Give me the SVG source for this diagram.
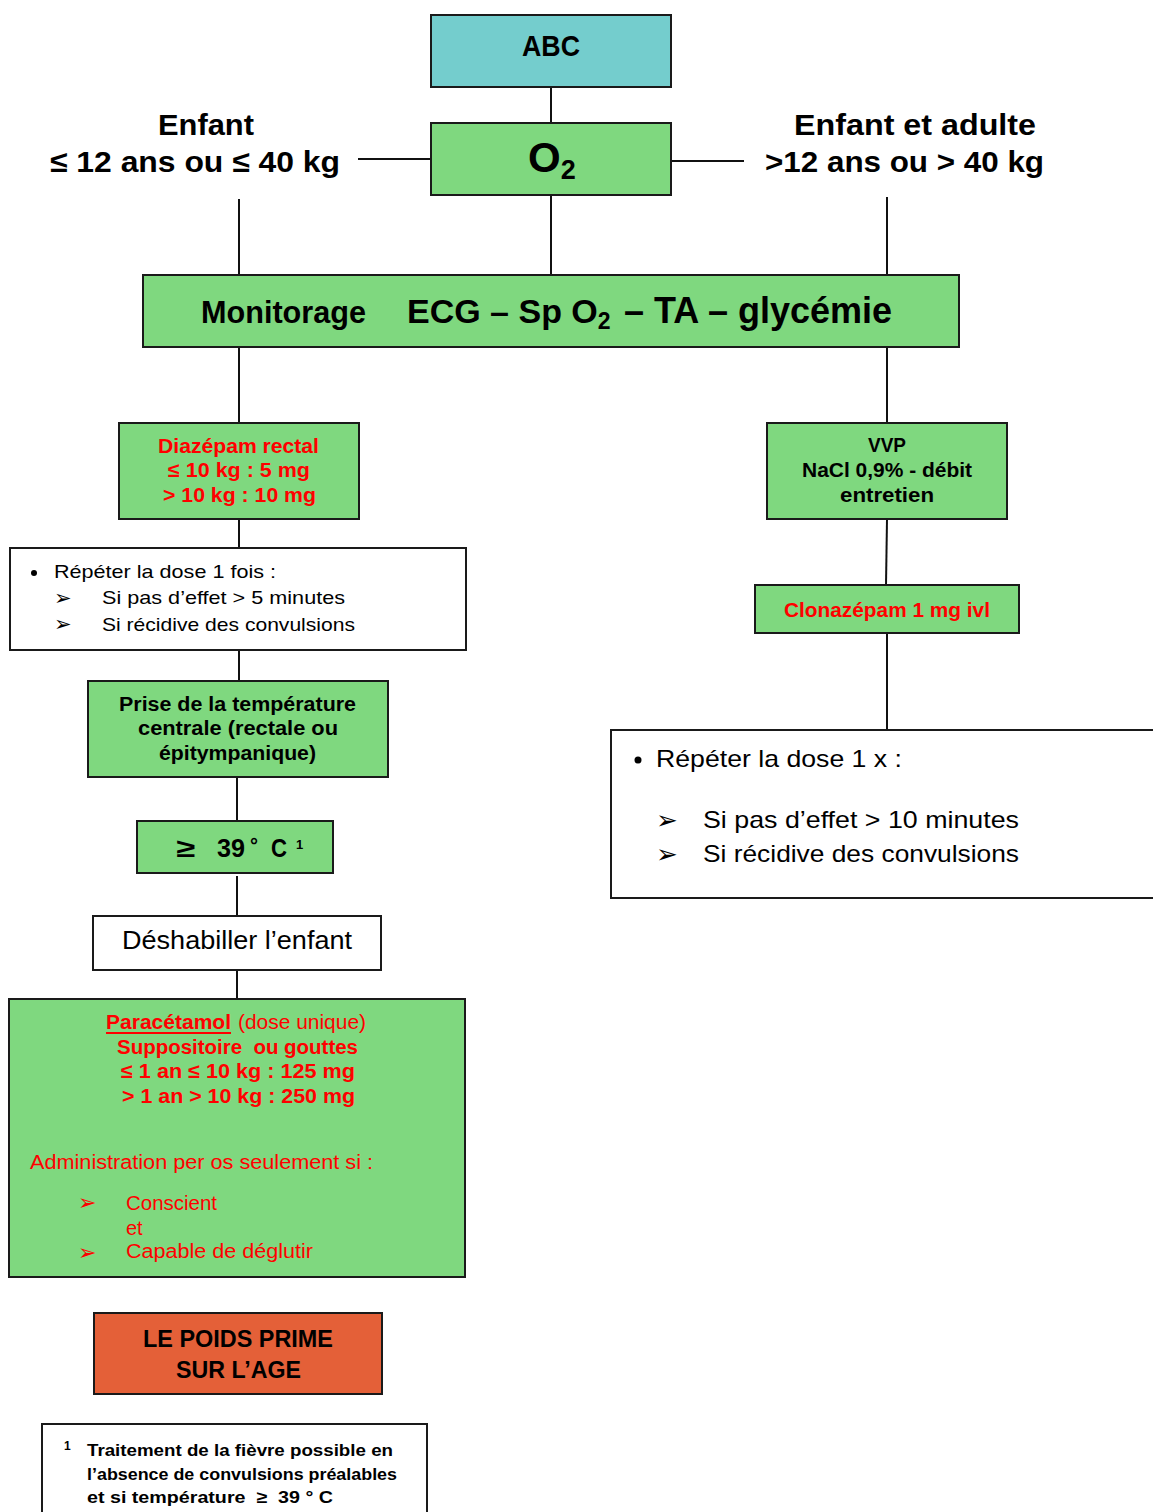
<svg xmlns="http://www.w3.org/2000/svg" width="1153" height="1512" viewBox="0 0 1153 1512">
<style>
.box{stroke:#1a1a1a;stroke-width:2}
.green{fill:#7FD87F}
.teal{fill:#74CDCD}
.orange{fill:#E46038}
.white{fill:#ffffff}
.conn line{stroke:#111;stroke-width:2;fill:none}
.b{font-family:"Liberation Sans",Arial,sans-serif;font-weight:bold;fill:#000}
.r{font-family:"Liberation Sans",Arial,sans-serif;font-weight:normal;fill:#000}
.red{fill:#FF0000}
.sym{font-family:"DejaVu Sans",sans-serif}
</style>
<rect width="1153" height="1512" fill="#ffffff"/>
<g class="conn" id="connectors">
<line x1="551" y1="87" x2="551" y2="123"/>
<line x1="358" y1="159" x2="431" y2="159"/>
<line x1="671" y1="161" x2="744" y2="161"/>
<line x1="239" y1="199" x2="239" y2="275"/>
<line x1="551" y1="195" x2="551" y2="275"/>
<line x1="887" y1="197" x2="887" y2="275"/>
<line x1="239" y1="347" x2="239" y2="423"/>
<line x1="887" y1="347" x2="887" y2="423"/>
<line x1="239" y1="519" x2="239" y2="548"/>
<line x1="887" y1="519" x2="886" y2="585"/>
<line x1="239" y1="650" x2="239" y2="681"/>
<line x1="887" y1="633" x2="887" y2="730"/>
<line x1="237" y1="777" x2="237" y2="821"/>
<line x1="237" y1="876" x2="237" y2="916"/>
<line x1="237" y1="970" x2="237" y2="999"/>
</g>
<g id="abc">
<rect class="box teal" x="431" y="15" width="240" height="72"/>
<text class="b" x="522" y="56" font-size="30" textLength="58" lengthAdjust="spacingAndGlyphs">ABC</text>
</g>
<g id="o2">
<rect class="box green" x="431" y="123" width="240" height="72"/>
<text class="b" x="528" y="172" font-size="42">O<tspan font-size="27" dy="7">2</tspan></text>
</g>
<g id="label-enfant">
<text class="b" x="158" y="135" font-size="30" textLength="96" lengthAdjust="spacingAndGlyphs">Enfant</text>
<text class="b" x="50" y="172" font-size="30" textLength="290" lengthAdjust="spacingAndGlyphs">≤ 12 ans ou ≤ 40 kg</text>
</g>
<g id="label-adulte">
<text class="b" x="794" y="135" font-size="30" textLength="242" lengthAdjust="spacingAndGlyphs">Enfant et adulte</text>
<text class="b" x="765" y="172" font-size="30" textLength="279" lengthAdjust="spacingAndGlyphs">&gt;12 ans ou &gt; 40 kg</text>
</g>
<g id="monitorage">
<rect class="box green" x="143" y="275" width="816" height="72"/>
<text class="b" x="201" y="323" font-size="32" textLength="165" lengthAdjust="spacingAndGlyphs">Monitorage</text>
<text class="b" x="407" y="323" font-size="34">ECG – Sp O<tspan font-size="23" dy="6">2</tspan><tspan x="624" dy="-6" font-size="36">– TA – glycémie</tspan></text>
</g>
<g id="diazepam">
<rect class="box green" x="119" y="423" width="240" height="96"/>
<text class="b red" x="158" y="453" font-size="20" textLength="161" lengthAdjust="spacingAndGlyphs">Diazépam rectal</text>
<text class="b red" x="168" y="477" font-size="20" textLength="142" lengthAdjust="spacingAndGlyphs">≤ 10 kg : 5 mg</text>
<text class="b red" x="163" y="502" font-size="20" textLength="153" lengthAdjust="spacingAndGlyphs">&gt; 10 kg : 10 mg</text>
</g>
<g id="repeter-gauche">
<rect class="box white" x="10" y="548" width="456" height="102"/>
<circle cx="34" cy="573" r="3" fill="#000"/>
<text class="r" x="54" y="578" font-size="19" textLength="222" lengthAdjust="spacingAndGlyphs">Répéter la dose 1 fois :</text>
<text class="sym" x="54" y="605" font-size="21" fill="#000">➢</text>
<text class="r" x="102" y="604" font-size="19" textLength="243" lengthAdjust="spacingAndGlyphs">Si pas d’effet &gt; 5 minutes</text>
<text class="sym" x="54" y="631" font-size="21" fill="#000">➢</text>
<text class="r" x="102" y="631" font-size="19" textLength="253" lengthAdjust="spacingAndGlyphs">Si récidive des convulsions</text>
</g>
<g id="temperature">
<rect class="box green" x="88" y="681" width="300" height="96"/>
<text class="b" x="119" y="711" font-size="20" textLength="237" lengthAdjust="spacingAndGlyphs">Prise de la température</text>
<text class="b" x="138" y="735" font-size="20" textLength="200" lengthAdjust="spacingAndGlyphs">centrale (rectale ou</text>
<text class="b" x="159" y="760" font-size="20" textLength="157" lengthAdjust="spacingAndGlyphs">épitympanique)</text>
</g>
<g id="seuil-39">
<rect class="box green" x="137" y="821" width="196" height="52"/>
<text class="b" x="176" y="857" font-size="26" textLength="19" lengthAdjust="spacingAndGlyphs">≥</text>
<text class="b" x="217" y="857" font-size="25" textLength="28" lengthAdjust="spacingAndGlyphs">39</text>
<text class="b" x="250" y="852" font-size="20">°</text>
<text class="b" x="271" y="857" font-size="25" textLength="16" lengthAdjust="spacingAndGlyphs">C</text>
<text class="b" x="296" y="849" font-size="13">1</text>
</g>
<g id="deshabiller">
<rect class="box white" x="93" y="916" width="288" height="54"/>
<text class="r" x="122" y="949" font-size="25" textLength="230" lengthAdjust="spacingAndGlyphs">Déshabiller l’enfant</text>
</g>
<g id="paracetamol">
<rect class="box green" x="9" y="999" width="456" height="278"/>
<text class="b red" x="106" y="1029" font-size="20" textLength="125" lengthAdjust="spacingAndGlyphs">Paracétamol</text>
<line x1="106" y1="1033" x2="231" y2="1033" stroke="#FF0000" stroke-width="2"/>
<text class="r red" x="238" y="1029" font-size="20" textLength="128" lengthAdjust="spacingAndGlyphs">(dose unique)</text>
<text class="b red" x="117" y="1054" font-size="20" textLength="241" lengthAdjust="spacingAndGlyphs">Suppositoire&#160; ou gouttes</text>
<text class="b red" x="121" y="1078" font-size="20" textLength="234" lengthAdjust="spacingAndGlyphs">≤ 1 an ≤ 10 kg : 125 mg</text>
<text class="b red" x="122" y="1103" font-size="20" textLength="233" lengthAdjust="spacingAndGlyphs">&gt; 1 an &gt; 10 kg : 250 mg</text>
<text class="r red" x="30" y="1169" font-size="20" textLength="343" lengthAdjust="spacingAndGlyphs">Administration per os seulement si :</text>
<text class="sym red" x="78" y="1210" font-size="22">➢</text>
<text class="r red" x="126" y="1210" font-size="20" textLength="91" lengthAdjust="spacingAndGlyphs">Conscient</text>
<text class="r red" x="126" y="1235" font-size="20">et</text>
<text class="sym red" x="78" y="1260" font-size="22">➢</text>
<text class="r red" x="126" y="1258" font-size="20" textLength="187" lengthAdjust="spacingAndGlyphs">Capable de déglutir</text>
</g>
<g id="poids">
<rect class="box orange" x="94" y="1313" width="288" height="81"/>
<text class="b" x="143" y="1347" font-size="24" textLength="190" lengthAdjust="spacingAndGlyphs">LE POIDS PRIME</text>
<text class="b" x="176" y="1378" font-size="24" textLength="125" lengthAdjust="spacingAndGlyphs">SUR L’AGE</text>
</g>
<g id="footnote">
<rect class="box white" x="42" y="1424" width="385" height="100"/>
<text class="b" x="64" y="1450" font-size="12">1</text>
<text class="b" x="87" y="1456" font-size="17" textLength="306" lengthAdjust="spacingAndGlyphs">Traitement de la fièvre possible en</text>
<text class="b" x="87" y="1480" font-size="17" textLength="310" lengthAdjust="spacingAndGlyphs">l’absence de convulsions préalables</text>
<text class="b" x="87" y="1503" font-size="17" textLength="246" lengthAdjust="spacingAndGlyphs">et si température&#160; ≥&#160; 39 ° C</text>
</g>
<g id="vvp">
<rect class="box green" x="767" y="423" width="240" height="96"/>
<text class="b" x="868" y="452" font-size="20" textLength="38" lengthAdjust="spacingAndGlyphs">VVP</text>
<text class="b" x="802" y="477" font-size="20" textLength="170" lengthAdjust="spacingAndGlyphs">NaCl 0,9% - débit</text>
<text class="b" x="840" y="502" font-size="20" textLength="94" lengthAdjust="spacingAndGlyphs">entretien</text>
</g>
<g id="clonazepam">
<rect class="box green" x="755" y="585" width="264" height="48"/>
<text class="b red" x="784" y="617" font-size="20" textLength="206" lengthAdjust="spacingAndGlyphs">Clonazépam 1 mg ivl</text>
</g>
<g id="repeter-droite">
<rect class="box white" x="611" y="730" width="560" height="168"/>
<circle cx="638" cy="760" r="3.5" fill="#000"/>
<text class="r" x="656" y="767" font-size="24" textLength="246" lengthAdjust="spacingAndGlyphs">Répéter la dose 1 x :</text>
<text class="sym" x="656" y="829" font-size="26" fill="#000">➢</text>
<text class="r" x="703" y="828" font-size="24" textLength="316" lengthAdjust="spacingAndGlyphs">Si pas d’effet &gt; 10 minutes</text>
<text class="sym" x="656" y="863" font-size="26" fill="#000">➢</text>
<text class="r" x="703" y="862" font-size="24" textLength="316" lengthAdjust="spacingAndGlyphs">Si récidive des convulsions</text>
</g>
</svg>
